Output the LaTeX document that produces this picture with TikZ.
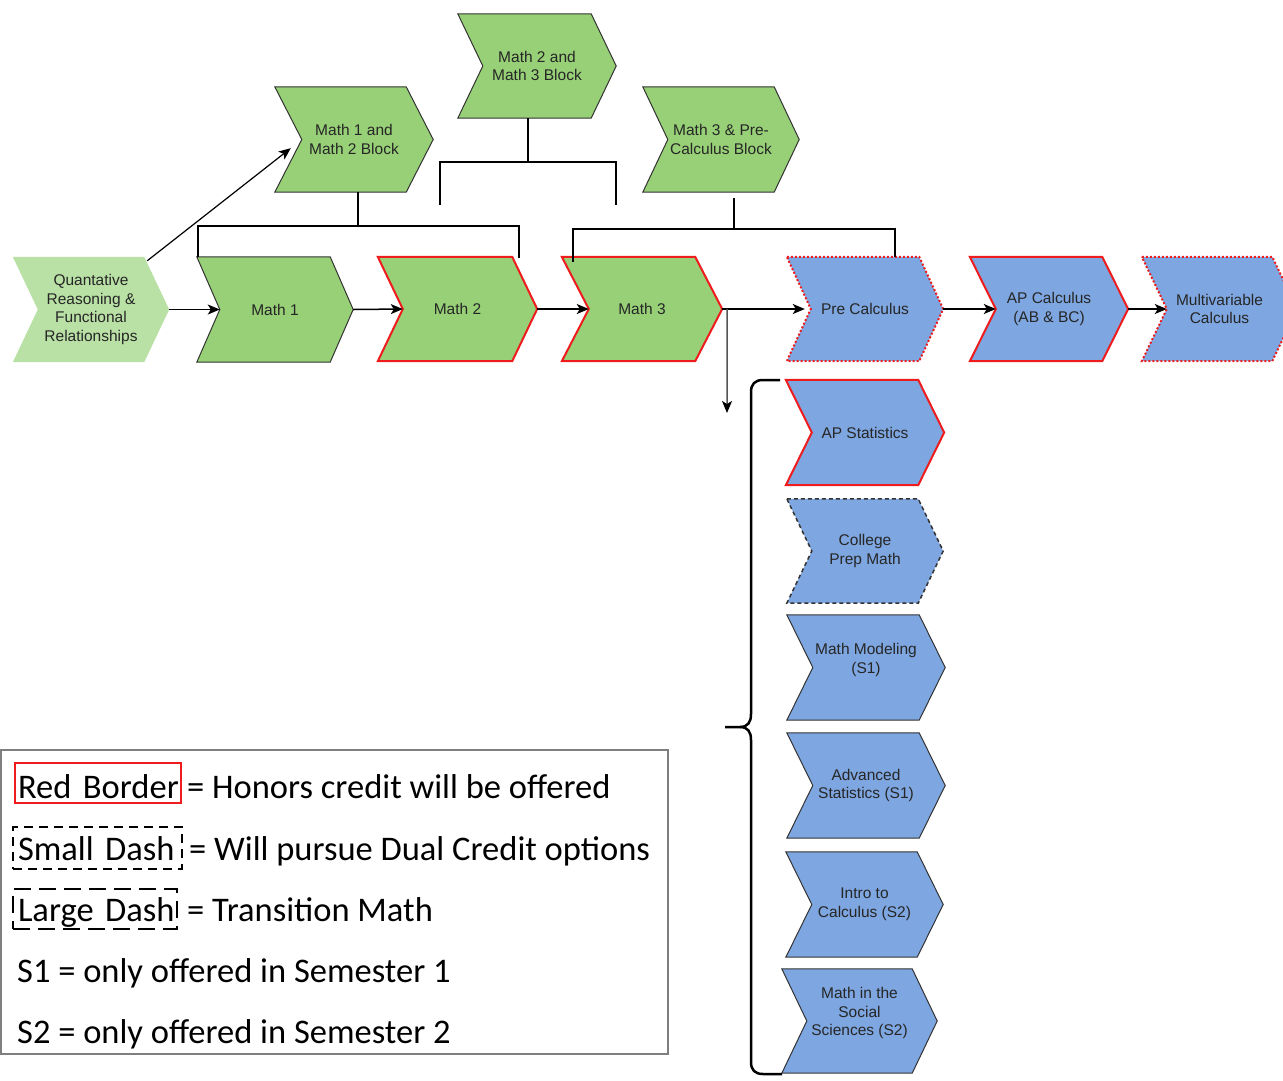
\documentclass[tikz,border=0pt]{standalone}
\usepackage{fontspec}
\setmainfont{Liberation Sans}
\newfontfamily\lgfont{Carlito}
\usetikzlibrary{arrows.meta,backgrounds,calc}
\definecolor{gfill}{HTML}{97D077}
\definecolor{lgfill}{HTML}{B9E0A5}
\definecolor{bfill}{HTML}{7EA6E0}
\definecolor{hred}{HTML}{EE1C1C}
\definecolor{edgec}{HTML}{333333}
\definecolor{txtc}{HTML}{262626}
\definecolor{lgray}{HTML}{7F7F7F}
\definecolor{splitc}{HTML}{555555}
\tikzset{
  chevtext/.style={inner sep=0pt, align=center, font=\fontsize{15.5}{18.5}\selectfont, text=txtc},
  gshape/.style={fill=gfill, draw=edgec, line width=1pt},
  lgshape/.style={fill=lgfill, draw=none},
  bshape/.style={fill=bfill, draw=edgec, line width=1pt},
  honors/.style={draw=hred, line width=2pt},
  dualcr/.style={draw=hred, line width=2pt, dash pattern=on 2pt off 2pt},
  transm/.style={draw=edgec, line width=1.5pt, dash pattern=on 4pt off 3pt},
  flow/.style={draw=black, line width=1.5pt, -{Stealth[length=12pt,width=10pt,inset=3pt,color=black]}},
  bracket/.style={draw=black, line width=2.5pt},
  lgt/.style={font=\lgfont\fontsize{34.5}{40}\selectfont, inner sep=0pt},
  lgbox/.style={lgt, anchor=north west, align=left, inner xsep=5pt, text depth=0pt},
}
% name, shape style, left, top, width, height, depth, text
\newcommand\chev[8]{%
  \node[chevtext, minimum width=#5pt, minimum height=#6pt] (#1) at ({#3+#5/2},{#4+#6/2}) {#8};
  \coordinate (#1-in) at ([xshift=#7pt]#1.west);
  \begin{pgfonlayer}{background}
    \path[#2] (#1.north west) -- ([xshift=-#7pt]#1.north east) -- (#1.east)
      -- ([xshift=-#7pt]#1.south east) -- (#1.south west) -- (#1-in) -- cycle;
  \end{pgfonlayer}%
}
\begin{document}
\begin{tikzpicture}[x=1pt,y=-1pt]
\path[use as bounding box, clip] (0,0) rectangle (1283,1080);

% main row
\chev{quant}{lgshape}{13}{257}{156}{105}{25}{Quantative\\Reasoning \&\\Functional\\Relationships}
\chev{m1}{gshape}{197}{257}{156}{105}{23}{Math 1}
\chev{m2}{gshape,honors}{378}{257}{159}{104}{25}{Math 2}
\chev{m3}{gshape,honors}{562}{257}{160}{104}{27}{Math 3}
\chev{pc}{bshape,dualcr}{787}{257}{156}{104}{24}{Pre Calculus}
\chev{apc}{bshape,honors}{970}{257}{158}{104}{26}{AP Calculus\\(AB \& BC)}
\chev{mv}{bshape,dualcr}{1142}{257}{155}{104}{25}{Multivariable\\Calculus}

% block courses
\chev{b12}{gshape}{275}{87}{158}{105}{27}{Math 1 and\\Math 2 Block}
\chev{b23}{gshape}{458}{14}{158}{104}{25}{Math 2 and\\Math 3 Block}
\chev{b3p}{gshape}{643}{87}{156}{105}{25}{Math 3 \& Pre-\\Calculus Block}

% options after Math 3
\chev{aps}{bshape,honors}{786}{380}{158}{105}{26}{AP Statistics}
\chev{cpm}{bshape,transm}{787}{499}{156}{104}{25}{College\\Prep Math}
\chev{mm}{bshape}{787}{615}{158}{105}{26}{Math Modeling\\(S1)\\\mbox{}}
\chev{advs}{bshape}{787}{733}{158}{105}{26}{Advanced\\Statistics (S1)}
\chev{intro}{bshape}{786}{852}{157}{105}{26}{Intro to\\Calculus (S2)}
\chev{soc}{bshape}{782}{969}{155}{104}{25}{Math in the\\Social\\Sciences (S2)\\\mbox{}}

% flow arrows
\draw[flow] (quant.east) -- (m1-in);
\draw[flow] (m1.east) -- (m2-in);
\draw[flow] (m2.east) -- (m3-in);
\draw[flow, shorten >=6pt] (m3.east) -- (pc-in);
\draw[flow] (pc.east) -- (apc-in);
\draw[flow] (apc.east) -- (mv-in);
\draw[flow, line width=1.2pt, shorten >=14pt] ([xshift=-22pt,yshift=-4pt]quant.north east) -- (b12-in);

% split down to the option list
\coordinate (split) at ([xshift=5pt]m3.east);
\coordinate (splitend) at (727,413);
\draw[flow, draw=splitc] (split) -- (splitend);

% block brackets
\draw[bracket] ([xshift=4pt]b12.south) -- ++(0,34);
\draw[bracket] ([xshift=1pt]m1.north west) -- ++(0,-31) -- ++(321,0) -- ++(0,32);

\coordinate (k2a) at (440,205);
\coordinate (k2b) at (616,205);
\draw[bracket] ([xshift=-9pt]b23.south) -- ++(0,44);
\draw[bracket] (k2a) -- (440,162) -- (616,162) -- (k2b);

\coordinate (k3a) at (573,262);
\coordinate (k3b) at (895,257);
\draw[bracket] ([xshift=13pt,yshift=-6pt]b3p.south) -- ++(0,31);
\draw[bracket] (k3a) -- (573,229) -- (895,229) -- (k3b);

% brace
\coordinate (bt) at (780,380);
\coordinate (bb) at (782,1074);
\coordinate (btip) at (725,727);
\draw[draw=black, line width=2.5pt]
  (bt) -- (763,380) .. controls (755,380) and (751,384) .. (751,392)
  -- (751,714) .. controls (751,722) and (748,727) .. (740,727) -- (btip);
\draw[draw=black, line width=2.5pt]
  (740,727) .. controls (748,727) and (751,732) .. (751,740)
  -- (751,1062) .. controls (751,1070) and (755,1074) .. (763,1074) -- (bb);

% legend
\draw[draw=lgray, line width=1.5pt] (1,750) rectangle (668,1054);
\node[lgbox, draw=hred, line width=2pt, text width=160pt, inner xsep=3pt,
      minimum height=40pt, text height=30pt] (rb) at (14,762) {\mbox{Red Border}};
\node[lgt, anchor=base west] (rbt) at ([xshift=5pt]rb.base east) {= Honors credit will be offered};
\node[lgbox, draw=black, line width=2pt, dash pattern=on 9pt off 6pt,
      text width=159pt, minimum height=42pt, text height=24pt] (sd) at (12,826) {\mbox{Small Dash}};
\node[lgt, anchor=base west] (sdt) at ([xshift=6pt]sd.base east) {= Will pursue Dual Credit options};
\node[lgbox, draw=black, line width=2pt, dash pattern=on 17pt off 8pt,
      text width=154pt, minimum height=40pt, text height=24pt] (ld) at (12,888) {\mbox{Large Dash}};
\node[lgt, anchor=base west] (ldt) at ([xshift=9pt]ld.base east) {= Transition Math};
\node[lgt, anchor=base west] (s1) at (17,982) {S1 = only offered in Semester 1};
\node[lgt, anchor=base west] (s2) at (17,1043) {S2 = only offered in Semester 2};
\end{tikzpicture}
\end{document}
